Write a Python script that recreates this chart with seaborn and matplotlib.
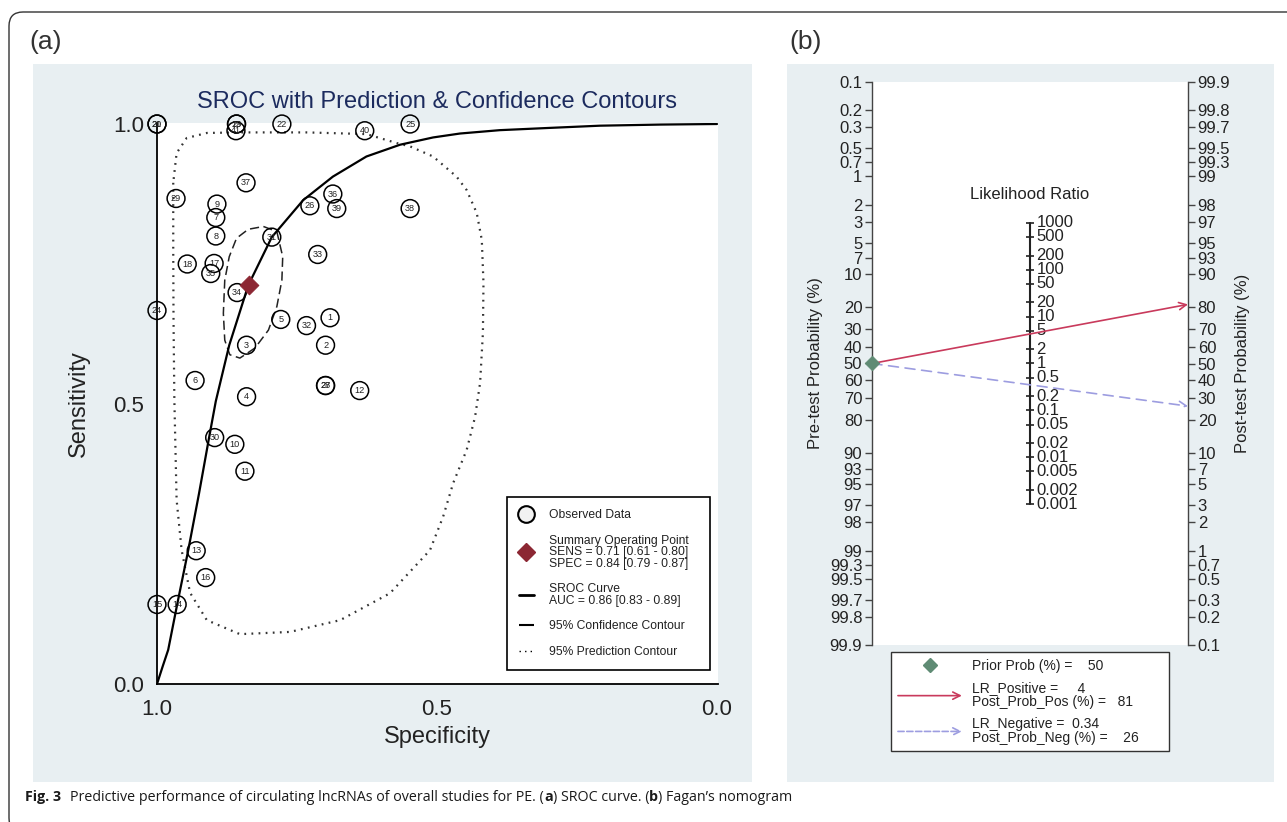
import numpy as np
import pandas as pd
import matplotlib
matplotlib.use("Agg")
import matplotlib.pyplot as plt
import seaborn as sns
from matplotlib.lines import Line2D
from matplotlib.patches import Rectangle, FancyBboxPatch, FancyArrowPatch
from matplotlib.legend_handler import HandlerBase
from matplotlib.ticker import NullLocator
from matplotlib import font_manager

# ---------------- data: panel (a) SROC ----------------
study_id = list(range(1, 42))
study_spec = [0.691, 0.699, 0.840, 0.840, 0.779, 0.932, 0.895, 0.895, 0.893, 0.861,
              0.843, 0.638, 0.930, 0.964, 1.000, 0.913, 0.898, 0.946, 0.858, 1.000,
              1.000, 0.777, 0.858, 1.000, 0.548, 0.727, 0.699, 0.699, 0.966, 0.897,
              0.795, 0.733, 0.713, 0.857, 0.904, 0.686, 0.841, 0.548, 0.679, 0.629,
              0.859]
study_sens = [0.654, 0.605, 0.605, 0.513, 0.651, 0.542, 0.833, 0.800, 0.857, 0.428,
              0.380, 0.524, 0.238, 0.142, 0.142, 0.190, 0.751, 0.750, 1.000, 1.000,
              1.000, 1.000, 1.000, 0.667, 1.000, 0.854, 0.533, 0.533, 0.867, 0.440,
              0.798, 0.640, 0.767, 0.699, 0.733, 0.875, 0.895, 0.849, 0.849, 0.988,
              0.988]

summary_spec = 0.836
summary_sens = 0.712
sens_text = "0.71 [0.61 - 0.80]"
spec_text = "0.84 [0.79 - 0.87]"
auc_text = "0.86 [0.83 - 0.89]"

curve_spec = [1.0, 0.99, 0.98, 0.964, 0.944, 0.925, 0.907, 0.895, 0.871, 0.837, 0.795,
              0.739, 0.686, 0.626, 0.566, 0.507, 0.459, 0.388, 0.30, 0.209, 0.10, 0.0]
curve_sens = [0.0, 0.031, 0.061, 0.142, 0.24, 0.34, 0.44, 0.505, 0.605, 0.712, 0.798,
              0.864, 0.906, 0.942, 0.963, 0.976, 0.983, 0.989, 0.993, 0.997, 0.999, 1.0]

conf_spec = [0.810, 0.786, 0.7755, 0.777, 0.786, 0.801, 0.825, 0.852, 0.870, 0.879,
             0.8815, 0.879, 0.871, 0.858, 0.837, 0.810]
conf_sens = [0.817, 0.808, 0.763, 0.721, 0.674, 0.632, 0.600, 0.582, 0.588, 0.614,
             0.662, 0.721, 0.763, 0.796, 0.812, 0.817]

pred_spec = [0.971, 0.971, 0.9705, 0.969, 0.965, 0.956, 0.941, 0.911, 0.852, 0.7625,
             0.673, 0.584, 0.5125, 0.489, 0.471, 0.447, 0.432, 0.423, 0.418, 0.417,
             0.420, 0.429, 0.447, 0.465, 0.507, 0.548, 0.572, 0.626, 0.733, 0.852,
             0.911, 0.947, 0.965, 0.971]
pred_sens = [0.895, 0.775, 0.650, 0.507, 0.329, 0.239, 0.163, 0.114, 0.089, 0.093,
             0.114, 0.162, 0.239, 0.299, 0.359, 0.418, 0.477, 0.538, 0.627, 0.716,
             0.793, 0.841, 0.882, 0.906, 0.942, 0.960, 0.966, 0.982, 0.985, 0.985,
             0.984, 0.975, 0.948, 0.895]

sroc_ticks = [1.0, 0.5, 0.0]
sroc_ticklabels = ["1.0", "0.5", "0.0"]

# ---------------- data: panel (b) Fagan nomogram ----------------
prior_prob = 50
lr_positive = 4
post_prob_pos = 81
lr_negative = 0.34
post_prob_neg = 26
pre_ticks = [0.1, 0.2, 0.3, 0.5, 0.7, 1, 2, 3, 5, 7, 10, 20, 30, 40, 50, 60, 70, 80,
             90, 93, 95, 97, 98, 99, 99.3, 99.5, 99.7, 99.8, 99.9]
post_ticks = [99.9, 99.8, 99.7, 99.5, 99.3, 99, 98, 97, 95, 93, 90, 80, 70, 60, 50, 40,
              30, 20, 10, 7, 5, 3, 2, 1, 0.7, 0.5, 0.3, 0.2, 0.1]
lr_ticks = [1000, 500, 200, 100, 50, 20, 10, 5, 2, 1, 0.5, 0.2, 0.1, 0.05, 0.02,
            0.01, 0.005, 0.002, 0.001]

caption_parts = [("Fig. 3", "bold"),
                 ("Predictive performance of circulating lncRNAs of overall studies for PE. (", "normal"),
                 ("a", "bold"), (") SROC curve. (", "normal"), ("b", "bold"),
                 (") Fagan\u2019s nomogram", "normal")]

# ---------------- style ----------------
sns.set_style("white")
plt.rcParams["font.family"] = ["Liberation Sans", "DejaVu Sans"]

W, H = 1287, 822
fig = plt.figure(figsize=(W / 100, H / 100), dpi=100)


def fx(px):
    return px / W


def fy(py):
    return 1 - py / H


BG = "#e8eff2"
NAVY = "#1c2b5e"
DARKRED = "#8c2733"
RED = "#c93a5c"
PURPLE = "#9d9de0"
GREEN = "#5f8b74"
GREY = "#444444"

# outer frame (rounded corner) and panel backgrounds
fig.add_artist(FancyBboxPatch((0.09, -0.1), 13.2, 8.22 - 0.12 + 0.1,
                              boxstyle="round,pad=0,rounding_size=0.14",
                              transform=fig.dpi_scale_trans, facecolor="none",
                              edgecolor="#333333", lw=1.0, zorder=-2))
fig.add_artist(Rectangle((fx(33), fy(782)), fx(752) - fx(33), fy(64) - fy(782),
                         transform=fig.transFigure, facecolor=BG, edgecolor="none", zorder=-1))
fig.add_artist(Rectangle((fx(787), fy(782)), fx(1274) - fx(787), fy(64) - fy(782),
                         transform=fig.transFigure, facecolor=BG, edgecolor="none", zorder=-1))

fig.text(fx(46), fy(42), "(a)", fontsize=19, color="#333333", ha="center", va="center")
fig.text(fx(806), fy(42), "(b)", fontsize=19, color="#333333", ha="center", va="center")

# ================= panel (a) =================
ax = fig.add_axes([fx(157), fy(684), fx(718) - fx(157), fy(123) - fy(684)])
ax.set_facecolor("white")

sns.lineplot(x=pred_spec, y=pred_sens, sort=False, estimator=None, ax=ax,
             color="#333333", lw=1.6, linestyle=(0, (0.8, 2.4)), zorder=2)
sns.lineplot(x=conf_spec, y=conf_sens, sort=False, estimator=None, ax=ax,
             color="#222222", lw=1.1, linestyle=(0, (6, 3)), zorder=2)
sns.lineplot(x=curve_spec, y=curve_sens, sort=False, estimator=None, ax=ax,
             color="black", lw=1.6, zorder=2)

sns.scatterplot(x=study_spec, y=study_sens, ax=ax, s=165, marker="o",
                edgecolor="black", linewidth=1.1, clip_on=False, zorder=3, legend=False)
ax.collections[-1].set_facecolor("none")
for sid, sx, sy in zip(study_id, study_spec, study_sens):
    ax.text(sx, sy, str(sid), ha="center", va="center", fontsize=6.6, color="#222222", zorder=4)

sns.scatterplot(x=[summary_spec], y=[summary_sens], ax=ax, marker="D", s=90,
                color=DARKRED, edgecolor=DARKRED, zorder=5, legend=False)

ax.set_xlim(1.0, -0.0018)
ax.set_ylim(0.0, 1.0018)
ax.set_xticks(sroc_ticks, labels=sroc_ticklabels)
ax.set_yticks(sroc_ticks, labels=sroc_ticklabels)
for s in ["top", "right"]:
    ax.spines[s].set_visible(False)
for s in ["left", "bottom"]:
    ax.spines[s].set_color("black")
    ax.spines[s].set_linewidth(1.3)
ax.tick_params(axis="both", direction="out", length=7, width=1.2, color="black",
               labelsize=16, labelcolor="#222222")
ax.tick_params(axis="y", pad=2)
ax.tick_params(axis="x", pad=4)
ax.set_ylabel("Sensitivity", fontsize=17, color="#222222")
ax.yaxis.set_label_coords(-0.12, 0.5)
ax.set_xlabel("Specificity", fontsize=17, color="#222222")
ax.xaxis.set_label_coords(0.5, -0.075)
ax.text(0.5, 1.0374, "SROC with Prediction & Confidence Contours", transform=ax.transAxes,
        ha="center", va="center", fontsize=17, color=NAVY)

handles_a = [
    Line2D([], [], marker="o", ls="none", mfc="#f2f2f2", mec="black", mew=1.5, ms=12),
    Line2D([], [], marker="D", ls="none", color=DARKRED, ms=9),
    Line2D([], [], color="black", lw=2.0),
    Line2D([], [], color="black", lw=1.5, ls=(0, (10, 3))),
    Line2D([], [], color="black", lw=1.0, ls=(0, (1, 3))),
]
labels_a = [
    "Observed Data",
    "Summary Operating Point\nSENS = " + sens_text + "\nSPEC = " + spec_text,
    "SROC Curve\nAUC = " + auc_text,
    "95% Confidence Contour",
    "95% Prediction Contour",
]
leg_a = ax.legend(handles_a, labels_a, loc="upper left",
                  bbox_to_anchor=(fx(507), fy(676), fx(710) - fx(507), fy(497) - fy(676)),
                  bbox_transform=fig.transFigure, mode="expand", borderaxespad=0,
                  fontsize=8.7, frameon=True, fancybox=False, edgecolor="black",
                  framealpha=1, borderpad=1.0, labelspacing=1.12, handlelength=1.2,
                  handletextpad=1.3)
leg_a.get_frame().set_linewidth(1.2)
for t in leg_a.get_texts():
    t.set_linespacing(0.95)
    t.set_color("#222222")

# ================= panel (b) =================
axb = fig.add_axes([fx(872), fy(645), fx(1188) - fx(872), fy(82) - fy(645)])
axb.set_facecolor("white")
axb.set_yscale("logit")
axb.set_ylim(0.999, 0.001)
axb.set_xlim(0, 1)
axb.set_yticks([v / 100 for v in pre_ticks], labels=[f"{v:g}" for v in pre_ticks])
axb.yaxis.set_minor_locator(NullLocator())
axb.set_xticks([])
for s in ["top", "right", "bottom"]:
    axb.spines[s].set_visible(False)
axb.spines["left"].set_color(GREY)
axb.spines["left"].set_linewidth(1.0)
axb.tick_params(axis="y", direction="out", length=5, width=1.0, color=GREY,
                labelsize=12, pad=2, labelcolor="#222222")

axr = axb.twinx()
axr.set_yscale("logit")
axr.set_ylim(0.999, 0.001)
axr.set_yticks([1 - v / 100 for v in post_ticks], labels=[f"{v:g}" for v in post_ticks])
axr.yaxis.set_minor_locator(NullLocator())
for s in ["top", "left", "bottom"]:
    axr.spines[s].set_visible(False)
axr.spines["right"].set_color(GREY)
axr.spines["right"].set_linewidth(1.0)
axr.tick_params(axis="y", direction="out", length=5, width=1.0, color=GREY,
                labelsize=12, pad=2, labelcolor="#222222")

axb.set_ylabel("Pre-test Probability (%)", fontsize=12, color="#222222")
axb.yaxis.set_label_coords(-0.155, 0.5)
axr.set_ylabel("Post-test Probability (%)", fontsize=12, color="#222222", rotation=90)
axr.yaxis.set_label_coords(1.149, 0.5)

# likelihood ratio scale in the middle
lr_pos = 1 / (1 + np.sqrt(np.array(lr_ticks, dtype=float)))
axb.plot([0.5, 0.5], [lr_pos.min(), lr_pos.max()], color="#222222", lw=1.5, zorder=2)
axb.plot(np.full(len(lr_pos), 0.5), lr_pos, marker="_", ls="none", ms=6, mew=1.2,
         color="#222222", zorder=2)
for v, p in zip(lr_ticks, lr_pos):
    axb.text(0.52, p, f"{v:g}", ha="left", va="center", fontsize=12, color="#222222", zorder=2)
axb.text(0.5, 0.801, "Likelihood Ratio", transform=axb.transAxes, ha="center",
         va="center", fontsize=12, color="#222222")

axb.annotate("", xy=(1, 1 - post_prob_pos / 100), xytext=(0, prior_prob / 100),
             arrowprops=dict(arrowstyle="->", color=RED, lw=1.2, shrinkA=0, shrinkB=0,
                             mutation_scale=13), annotation_clip=False, zorder=4)
axb.annotate("", xy=(1, 1 - post_prob_neg / 100), xytext=(0, prior_prob / 100),
             arrowprops=dict(arrowstyle="->", color=PURPLE, lw=1.2, linestyle=(0, (6, 4)),
                             shrinkA=0, shrinkB=0, mutation_scale=13),
             annotation_clip=False, zorder=4)
sns.scatterplot(x=[0], y=[prior_prob / 100], ax=axb, marker="D", s=55, color=GREEN,
                edgecolor=GREEN, clip_on=False, zorder=5, legend=False)


class ArrowHandler(HandlerBase):
    def create_artists(self, legend, orig_handle, xdescent, ydescent, width, height,
                       fontsize, trans):
        y = height / 2 - ydescent
        arr = FancyArrowPatch((-xdescent, y), (width - xdescent, y), arrowstyle="->",
                              mutation_scale=13, color=orig_handle.get_color(),
                              lw=orig_handle.get_linewidth(),
                              linestyle=orig_handle.get_linestyle(),
                              shrinkA=0, shrinkB=0)
        arr.set_transform(trans)
        return [arr]


h_prior = Line2D([], [], marker="D", ls="none", color=GREEN, ms=7)
h_pos = Line2D([], [], color=RED, lw=1.2)
h_neg = Line2D([], [], color=PURPLE, lw=1.2, ls="--")
labels_b = [
    f"Prior Prob (%) =    {prior_prob:g}",
    f"LR_Positive =     {lr_positive:g}\nPost_Prob_Pos (%) =   {post_prob_pos:g}",
    f"LR_Negative =  {lr_negative:g}\nPost_Prob_Neg (%) =    {post_prob_neg:g}",
]
leg_b = axb.legend([h_prior, h_pos, h_neg], labels_b, loc="upper left",
                   bbox_to_anchor=(fx(891), fy(759), fx(1169) - fx(891), fy(652) - fy(759)),
                   bbox_transform=fig.transFigure, mode="expand", borderaxespad=0,
                   fontsize=10, frameon=True, fancybox=False, edgecolor="#333333",
                   framealpha=1, borderpad=0.5, labelspacing=0.6, handlelength=4.6,
                   handletextpad=0.7,
                   handler_map={h_pos: ArrowHandler(), h_neg: ArrowHandler()})
leg_b.get_frame().set_linewidth(1.0)
for t in leg_b.get_texts():
    t.set_linespacing(0.95)
    t.set_color("#222222")
leg_b.set_zorder(10)

# ================= caption =================
names = {f.name for f in font_manager.fontManager.ttflist}
cap_family = "Liberation Sans Narrow" if "Liberation Sans Narrow" in names else "Open Sans"


def draw_caption(size):
    renderer = fig.canvas.get_renderer()
    x = 25
    texts = []
    for i, (txt, weight) in enumerate(caption_parts):
        t = fig.text(fx(x), fy(797), txt, fontsize=size, fontweight=weight,
                     family=[cap_family, "DejaVu Sans"], color="#1a1a1a",
                     ha="left", va="center")
        texts.append(t)
        bb = t.get_window_extent(renderer)
        x += bb.width + (size * 0.9 if i == 0 else 0)
    return texts, x


cap_size = 10.5
texts, xend = draw_caption(cap_size)
scale = (797 - 25) / (xend - 25)
if abs(scale - 1) > 0.02:
    for t in texts:
        t.remove()
    texts, xend = draw_caption(cap_size * scale)

fig.savefig("out.png", dpi=100)
